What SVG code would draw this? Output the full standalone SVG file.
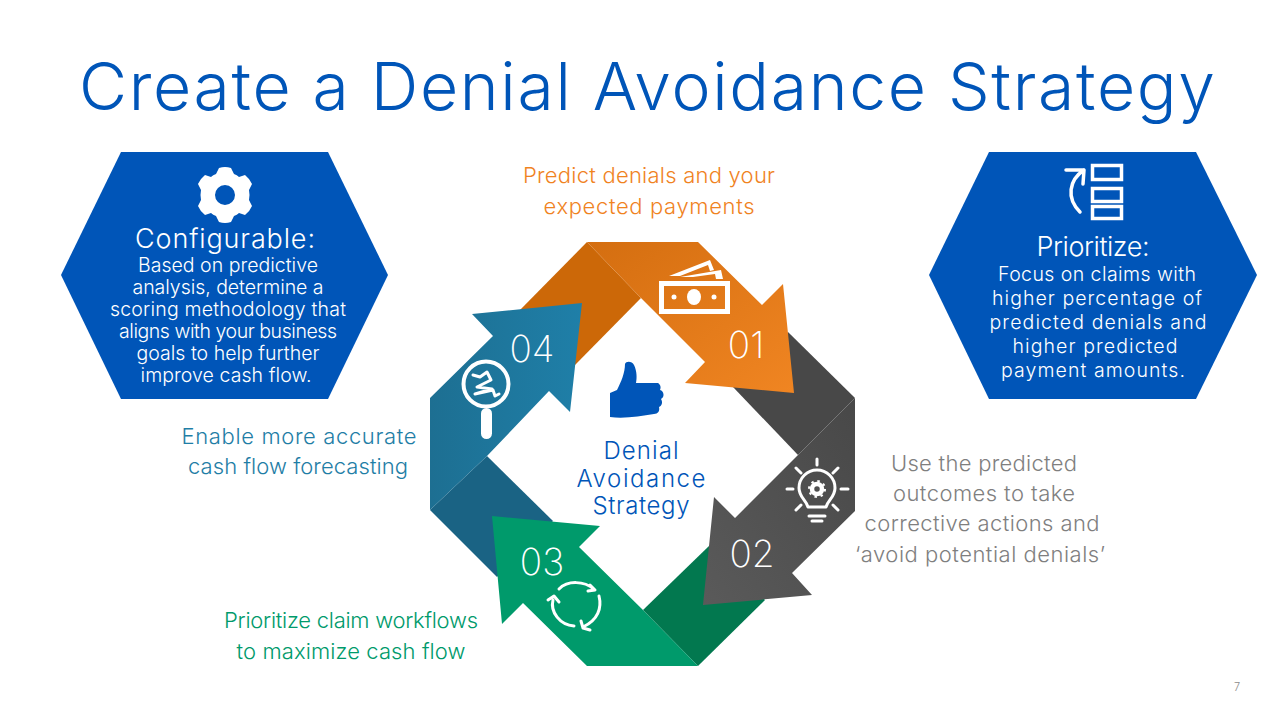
<svg xmlns="http://www.w3.org/2000/svg" width="1280" height="720" viewBox="0 0 1280 720">
<style>
text{font-family:"Inter","Liberation Sans",sans-serif;font-weight:300;text-anchor:middle}
.hex{fill:#0055b8}
.t{font-size:19.500px}
.w{fill:#fff}
.num{fill:#fff;font-size:37px;font-weight:200}
.line{fill:none;stroke:#fff;stroke-width:3;stroke-linecap:round;stroke-linejoin:round}
</style>
<defs>
<linearGradient id="g1" x1="0" y1="0" x2="1" y2="1"><stop offset="0" stop-color="#d46e10"/><stop offset="1" stop-color="#f08522"/></linearGradient>
<linearGradient id="g2" x1="1" y1="0" x2="0" y2="1"><stop offset="0" stop-color="#484848"/><stop offset="1" stop-color="#5a5a5a"/></linearGradient>
<linearGradient id="g4" x1="0" y1="0" x2="1" y2="0"><stop offset="0" stop-color="#1d6f92"/><stop offset="1" stop-color="#1f7fa8"/></linearGradient>
</defs>
<rect width="1280" height="720" fill="#fff"/>
<text id="title" x="647" y="110" font-size="66" fill="#0055b8" textLength="1136">Create a Denial Avoidance Strategy</text>

<g id="node-configurable">
<polygon class="hex" points="121,152 328,152 388,275 328,399 121,399 61,275"/>
<path class="w" fill-rule="evenodd" d="M219,168Q225,166 231,168L234,174Q237,175 239,177L245,175Q250,179 252,184L249,190Q250,195 249,200L252,206Q250,211 245,215L239,213Q237,215 234,216L231,222Q225,224 219,222L216,216Q213,215 211,213L205,215Q200,211 198,206L201,200Q200,195 201,190L198,184Q200,179 205,175L211,177Q213,175 216,174ZM235,195a10,10 0 1 0 -20,0a10,10 0 1 0 20,0z"/>
<text class="w" x="225" y="248" font-size="27" textLength="180">Configurable:</text>
<text class="w t" x="228" y="272" textLength="180">Based on predictive</text>
<text class="w t" x="228" y="294" textLength="191">analysis, determine a</text>
<text class="w t" x="228" y="316" textLength="236">scoring methodology that</text>
<text class="w t" x="228" y="338" textLength="218">aligns with your business</text>
<text class="w t" x="228" y="360" textLength="183">goals to help further</text>
<text class="w t" x="226" y="382" textLength="171">improve cash flow.</text>
</g>

<g id="node-prioritize">
<polygon class="hex" points="989,152 1196,152 1257,275 1196,399 989,399 929,275"/>
<g fill="none" stroke="#fff" stroke-width="3.500">
<rect x="1092.500" y="165.500" width="29" height="14"/>
<rect x="1092.500" y="188.500" width="29" height="13"/>
<rect x="1092.500" y="206.500" width="29" height="12"/>
</g>
<path fill="none" stroke="#fff" stroke-width="3.500" stroke-linecap="round" stroke-linejoin="round" d="M1080,212C1066,198 1069,180 1084,170M1066,170H1084L1083,184"/>
<text class="w" x="1093" y="256" font-size="27" textLength="113">Prioritize:</text>
<text class="w t" x="1097" y="281" textLength="198">Focus on claims with</text>
<text class="w t" x="1097" y="305" textLength="210">higher percentage of</text>
<text class="w t" x="1098" y="329" textLength="217">predicted denials and</text>
<text class="w t" x="1095" y="353" textLength="165">higher predicted</text>
<text class="w t" x="1093" y="377" textLength="184">payment amounts.</text>
</g>

<g id="connectors">
<polygon fill="#cc6808" points="587,242 641,298 575,365 520,310"/>
<polygon fill="#484848" points="733,387 788,332 855,398 798,455"/>
<polygon fill="#02784f" points="710,545 765,600 698,666 643,610"/>
<polygon fill="#1a6384" points="430,510 487,456 553,521 497,577"/>
</g>

<g id="node-01">
<polygon fill="url(#g1)" points="587,242 698,242 762,305 783,284 794,393 685,383 705,362 641,298"/>
<text class="num" x="746" y="358">01</text>
<g fill="#fff">
<path fill-rule="evenodd" d="M659,281H730V314H659ZM664,286V309H725V286Z"/>
<ellipse cx="694" cy="297" rx="7" ry="8"/>
<circle cx="674" cy="297" r="2.500"/><circle cx="714" cy="297" r="2.500"/>
<path d="M669,276L710,260 714,270 710,271 708,265 680,276Z"/>
<path d="M680,277L721,270 723,279H716L715,274 693,277Z"/>
</g>
</g>

<g id="node-02">
<polygon fill="url(#g2)" points="855,398 855,511 792,573 812,595 703,605 714,497 735,518 798,455"/>
<text class="num" x="752" y="567">02</text>
<g class="line">
<path d="M808,507C806,500 799,497 799,488a18,18 0 0 1 36,0C835,497 828,500 826,507Z"/>
<path d="M809,516H825M812,521H822"/>
<path d="M817,459V465M796,468L801,473M838,468L833,473M787,489H793M841,489H848M796,510L801,505M838,510L833,505"/>
</g>
<circle cx="817" cy="489" r="5" fill="none" stroke="#fff" stroke-width="4.500"/>
<circle cx="817" cy="489" r="8" fill="none" stroke="#fff" stroke-width="2" stroke-dasharray="2.500 3.800"/>
</g>

<g id="node-03">
<polygon fill="#009a6b" points="698,666 587,666 523,603 502,624 492,516 600,526 579,547 643,610"/>
<text class="num" x="542" y="575">03</text>
<g class="line">
<path d="M559,589C568,580 584,581 594,589M590,585L595,590 588,591"/>
<path d="M599,596C602,608 598,620 583,627M581,621L583,628 590,630"/>
<path d="M574,626C560,625 550,612 553,600M548,600L554,596 559,602"/>
</g>
</g>

<g id="node-04">
<polygon fill="url(#g4)" points="430,510 430,398 493,336 472,314 582,303 570,412 549,391 487,456"/>
<text class="num" x="532" y="362">04</text>
<g>
<circle cx="486" cy="384" r="22.500" fill="none" stroke="#fff" stroke-width="4"/>
<rect x="481" y="408" width="11" height="31" rx="5.500" fill="#fff"/>
<path fill="none" stroke="#fff" stroke-width="3" stroke-linejoin="round" stroke-linecap="round" d="M473,375L480,377 487,372 491,380 477,387 492,389 475,394 493,390 495,396 499,394"/>
</g>
</g>

<g id="node-center">
<path fill="#0055b8" d="M610,393L617,390C621,382 625,373 625,364C626,361 632,361 634,365C637,371 637,378 636,383L658,383C661,385 661,388 660,390C664,391 665,397 661,399C663,402 662,406 659,407C660,411 658,414 654,414C640,416 625,419 610,417Z"/>
<text x="641" y="459" font-size="24" fill="#0055b8" textLength="75">Denial</text>
<text x="641" y="487" font-size="24" fill="#0055b8" textLength="129">Avoidance</text>
<text x="641" y="514" font-size="24" fill="#0055b8" textLength="97">Strategy</text>
</g>

<g id="captions">
<text x="649" y="183" font-size="22" fill="#f0831f" textLength="252">Predict denials and your</text>
<text x="649" y="214" font-size="22" fill="#f0831f" textLength="211">expected payments</text>
<text x="984" y="471" font-size="22" fill="#7f7f7f" textLength="186">Use the predicted</text>
<text x="984" y="501" font-size="22" fill="#7f7f7f" textLength="182">outcomes to take</text>
<text x="982" y="531" font-size="22" fill="#7f7f7f" textLength="235">corrective actions and</text>
<text x="980" y="562" font-size="22" fill="#7f7f7f" textLength="250">‘avoid potential denials’</text>
<text x="299" y="444" font-size="22" fill="#1f7ea6" textLength="235">Enable more accurate</text>
<text x="298" y="474" font-size="22" fill="#1f7ea6" textLength="220">cash flow forecasting</text>
<text x="351" y="628" font-size="22" fill="#009a6b" textLength="254">Prioritize claim workflows</text>
<text x="351" y="659" font-size="22" fill="#009a6b" textLength="229">to maximize cash flow</text>
<text x="1237" y="691" font-size="11" fill="#8c8c8c">7</text>
</g>
</svg>
